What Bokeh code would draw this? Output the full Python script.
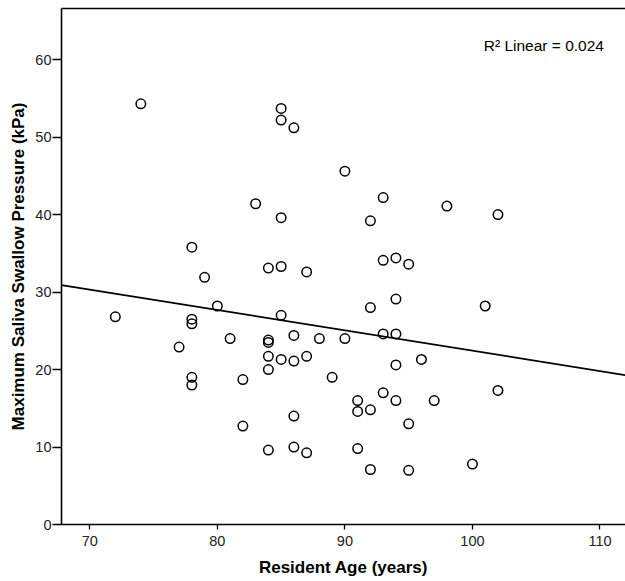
import numpy as np
from bokeh.plotting import figure
from bokeh.models import Range1d, LinearAxis, FixedTicker, Label, ColumnDataSource
from bokeh.embed import file_html
from bokeh.resources import INLINE

# Resident age (years) and maximum saliva swallow pressure (kPa)
age = [72, 74, 77,
       78, 78, 78, 78, 78,
       79, 80, 81, 82, 82, 83,
       84, 84, 84, 84, 84, 84,
       85, 85, 85, 85, 85, 85,
       86, 86, 86, 86, 86,
       87, 87, 87, 88, 89, 90, 90,
       91, 91, 91,
       92, 92, 92, 92,
       93, 93, 93, 93,
       94, 94, 94, 94, 94,
       95, 95, 95,
       96, 97, 98, 100, 101, 102, 102]
pressure = [26.8, 54.3, 22.9,
            35.8, 26.5, 25.9, 19.0, 18.0,
            31.9, 28.2, 24.0, 18.7, 12.7, 41.4,
            33.1, 23.8, 23.5, 21.7, 20.0, 9.6,
            53.7, 52.2, 39.6, 33.3, 27.0, 21.3,
            51.2, 24.4, 21.1, 14.0, 10.0,
            32.6, 21.7, 9.25, 24.0, 19.0, 45.6, 24.0,
            16.0, 14.6, 9.8,
            39.2, 28.0, 14.8, 7.1,
            42.2, 34.1, 24.6, 17.0,
            34.4, 29.1, 24.6, 20.6, 16.0,
            33.6, 13.0, 7.0,
            21.3, 16.0, 41.1, 7.8, 28.2, 40.0, 17.3]

x_ticks = [70, 80, 90, 100, 110]
y_ticks = [0, 10, 20, 30, 40, 50, 60]
r2_text = "R\u00b2 Linear = 0.024"

x0, x1 = 67.78, 112.0
y0, y1 = 0, 66.6

FONT = "Liberation Sans"

p = figure(frame_width=564, frame_height=516, output_backend="svg",
           toolbar_location=None, x_range=Range1d(x0, x1), y_range=Range1d(y0, y1),
           min_border_left=61, min_border_top=8, min_border_right=0, min_border_bottom=0)
p.background_fill_color = "white"
p.border_fill_color = "white"
p.outline_line_color = None
p.xgrid.visible = False
p.ygrid.visible = False

# axes
for ax in (p.xaxis[0], p.yaxis[0]):
    ax.axis_line_color = "black"
    ax.axis_line_width = 1.6
    ax.major_tick_line_color = "black"
    ax.major_tick_line_width = 1.3
    ax.major_tick_in = 0
    ax.minor_tick_line_color = None
    ax.major_label_text_font = FONT
    ax.major_label_text_font_size = "14.5px"
    ax.major_label_text_color = "#222222"
    ax.axis_label_text_font = FONT
    ax.axis_label_text_font_size = "17px"
    ax.axis_label_text_font_style = "bold"
    ax.axis_label_text_color = "black"

p.xaxis.ticker = FixedTicker(ticks=x_ticks)
p.yaxis.ticker = FixedTicker(ticks=y_ticks)
p.xaxis.axis_label = "Resident Age (years)"
p.yaxis.axis_label = "Maximum Saliva Swallow Pressure (kPa)"
p.xaxis.major_tick_out = 5
p.xaxis.major_label_standoff = 6
p.xaxis.axis_label_standoff = 9
p.yaxis.major_tick_out = 9
p.yaxis.major_label_standoff = 1
p.yaxis.axis_label_standoff = 4

top = LinearAxis(ticker=FixedTicker(ticks=[]), axis_line_color="black", axis_line_width=1.6,
                 major_tick_out=0, major_tick_in=0, minor_tick_out=0, minor_tick_in=0,
                 major_label_text_font_size="0px")
p.add_layout(top, "above")

# fit line from the data
slope, intercept = np.polyfit(np.array(age, float), np.array(pressure, float), 1)
fx = [x0, x1]
fy = [intercept + slope * x0, intercept + slope * x1]
p.line(fx, fy, line_color="black", line_width=1.8)

src = ColumnDataSource(dict(age=age, pressure=pressure))
p.scatter("age", "pressure", source=src, size=9.5, marker="circle",
          fill_color=None, line_color="black", line_width=1.5)

p.add_layout(Label(x=110.31, y=61.8, text=r2_text, text_align="right",
                   text_baseline="alphabetic", text_font=FONT, text_font_size="15.5px",
                   text_color="black"))

open("out.html", "w").write(file_html(p, INLINE))
